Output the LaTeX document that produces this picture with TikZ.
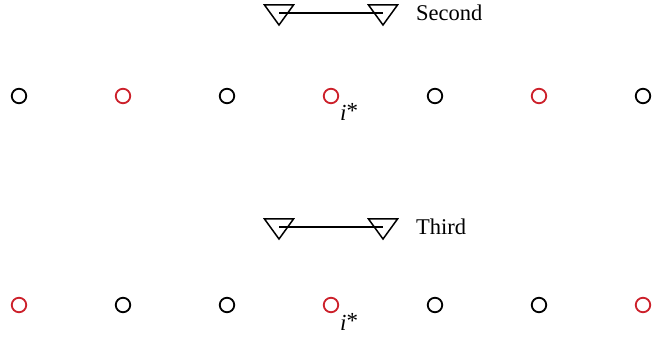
\documentclass[tikz,border=0pt]{standalone}
\usepackage{fontspec}
\setmainfont{Liberation Serif}
\usetikzlibrary{positioning}

\definecolor{sitered}{RGB}{204,32,42}

\tikzset{
  site/.style={circle, draw, line width=1.8pt, minimum size=14.5pt, inner sep=0pt},
  tap/.pic={\draw[line width=1.5pt, line join=miter] (-14.5,-8) -- (14.5,-8) -- (0,12) -- cycle;},
  caption/.style={inner sep=0pt, font=\fontsize{22.5}{27}\selectfont},
  starlab/.style={inner sep=0pt, anchor=base west, font=\fontsize{23}{27}\selectfont}
}

\begin{document}
\begin{tikzpicture}[x=1pt, y=-1pt]
\useasboundingbox (0,0) rectangle (653,339);
% upper row
\foreach \c [count=\i] in {black,sitered,black,sitered,black,sitered,black}
  \node[site, draw=\c] (a\i) at ({19+104*(\i-1)},96) {};
\coordinate (ta) at (279,13);
\coordinate (tb) at (383,13);
\draw[line width=1.5pt] (ta) -- (tb);
\pic at (ta) {tap};
\pic at (tb) {tap};
\node[caption, anchor=west, right=33pt of tb] (second) {Second};
\node[starlab] (astar) at ([xshift=9pt, yshift=-25pt]a4) {\textit{i}\raisebox{2pt}{*}};
% lower row
\foreach \c [count=\i] in {sitered,black,black,sitered,black,black,sitered}
  \node[site, draw=\c] (b\i) at ({19+104*(\i-1)},305) {};
\coordinate (tc) at (279,227);
\coordinate (td) at (383,227);
\draw[line width=1.5pt] (tc) -- (td);
\pic at (tc) {tap};
\pic at (td) {tap};
\node[caption, anchor=west, right=33pt of td] (third) {Third};
\node[starlab] (bstar) at ([xshift=9pt, yshift=-25pt]b4) {\textit{i}\raisebox{2pt}{*}};
\end{tikzpicture}
\end{document}
